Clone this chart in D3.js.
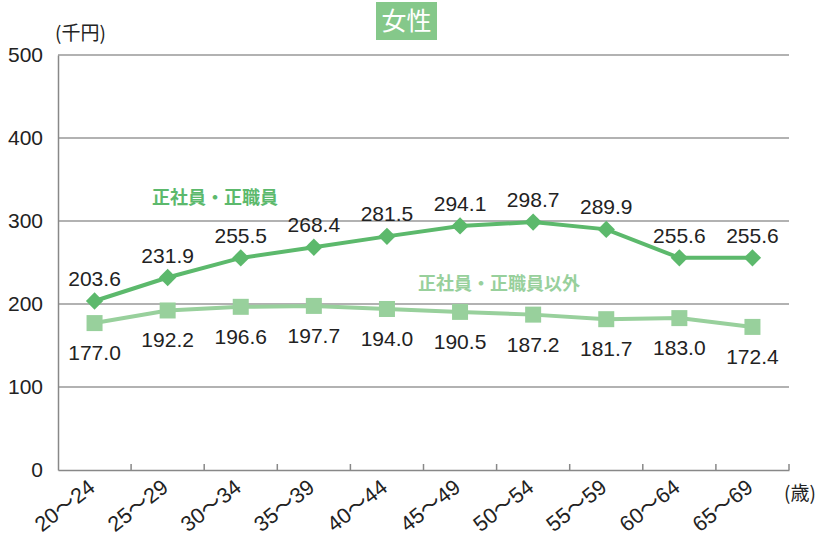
<!DOCTYPE html>
<html><head><meta charset="utf-8">
<script src="https://cdn.jsdelivr.net/npm/d3@7"></script>
<style>
body{margin:0;background:#fff;}
svg{display:block;font-family:"Liberation Sans",Arial,"Noto Sans CJK JP",sans-serif;}
.jp{font-family:"Noto Sans CJK JP",sans-serif;}
</style></head>
<body>
<svg id="c" width="826" height="536"></svg>
<script>
const categories = ["20〜24","25〜29","30〜34","35〜39","40〜44","45〜49","50〜54","55〜59","60〜64","65〜69"];
const regular = [203.6,231.9,255.5,268.4,281.5,294.1,298.7,289.9,255.6,255.6];
const nonRegular = [177.0,192.2,196.6,197.7,194.0,190.5,187.2,181.7,183.0,172.4];
const yTicks = [0,100,200,300,400,500];
const seriesNames = ["正社員・正職員","正社員・正職員以外"];

const svg = d3.select("#c");
const L=58, R=789, T=55, B=470;
const x = d3.scaleBand().domain(categories).range([L,R]);
const y = d3.scaleLinear().domain([0,500]).range([B,T]);
const c1="#5cb96c", c2="#98d09c";

// gridlines
svg.append("g").selectAll("line").data(yTicks.filter(d=>d>0)).join("line")
  .attr("x1",L).attr("x2",R).attr("y1",d=>y(d)).attr("y2",d=>y(d))
  .attr("stroke","#999").attr("stroke-width",1.5);

// y axis
const yAxis = svg.append("g").attr("transform",`translate(${L},0)`)
  .call(d3.axisLeft(y).tickValues(yTicks).tickSize(0).tickPadding(15));
yAxis.select(".domain").attr("stroke","#888").attr("stroke-width",1.5);
yAxis.selectAll("text").attr("font-size",21).attr("fill","#222")
  .attr("font-family","Liberation Sans, Arial, sans-serif");

// x axis
const xAxis = svg.append("g").attr("transform",`translate(0,${B})`)
  .call(d3.axisBottom(x).tickSize(0).tickFormat(""));
xAxis.select(".domain").attr("stroke","#888").attr("stroke-width",1.5);
const bounds = categories.map(c=>x(c)+x.bandwidth());
svg.append("g").selectAll("line").data(bounds).join("line")
  .attr("x1",d=>d).attr("x2",d=>d).attr("y1",B).attr("y2",B-6)
  .attr("stroke","#888").attr("stroke-width",1.5);

// x labels
svg.append("g").selectAll("text").data(categories).join("text")
  .attr("transform",d=>`translate(${x(d)+x.bandwidth()/2+2},${B+20}) rotate(-38)`)
  .attr("text-anchor","end").attr("font-size",21.5).attr("fill","#222")
  .text(d=>d);

// units
svg.append("text").attr("class","jp").attr("x",55).attr("y",40).attr("font-size",19).attr("fill","#222").text("(千円)");
svg.append("text").attr("class","jp").attr("x",784).attr("y",500).attr("font-size",19).attr("fill","#222").text("(歳)");

// title
svg.append("rect").attr("x",376).attr("y",2).attr("width",61).attr("height",38).attr("fill","#85c88a");
svg.append("text").attr("class","jp").attr("x",406.5).attr("y",30).attr("text-anchor","middle")
  .attr("font-size",25).attr("fill","#fff").text("女性");

const cx = d=>x(d)+x.bandwidth()/2;
const line = d3.line().x((d,i)=>cx(categories[i])).y(d=>y(d));

// series 2
svg.append("path").datum(nonRegular).attr("d",line).attr("fill","none").attr("stroke",c2).attr("stroke-width",4);
svg.append("g").selectAll("rect").data(nonRegular).join("rect")
  .attr("x",(d,i)=>cx(categories[i])-8).attr("y",d=>y(d)-8).attr("width",16).attr("height",16).attr("fill",c2);
svg.append("g").selectAll("text").data(nonRegular).join("text")
  .attr("x",(d,i)=>cx(categories[i])).attr("y",d=>y(d)+37).attr("text-anchor","middle")
  .attr("font-size",21).attr("fill","#222").text(d=>d.toFixed(1));

// series 1
svg.append("path").datum(regular).attr("d",line).attr("fill","none").attr("stroke",c1).attr("stroke-width",4);
svg.append("g").selectAll("path").data(regular).join("path")
  .attr("d",d3.symbol(d3.symbolSquare,150))
  .attr("transform",(d,i)=>`translate(${cx(categories[i])},${y(d)}) rotate(45)`)
  .attr("fill",c1);
svg.append("g").selectAll("text").data(regular).join("text")
  .attr("x",(d,i)=>cx(categories[i])).attr("y",d=>y(d)-15).attr("text-anchor","middle")
  .attr("font-size",21).attr("fill","#222").text(d=>d.toFixed(1));

// legends
svg.append("text").attr("class","jp").attr("x",152).attr("y",204).attr("font-size",18).attr("font-weight","bold").attr("fill",c1).text(seriesNames[0]);
svg.append("text").attr("class","jp").attr("x",418).attr("y",290).attr("font-size",18).attr("font-weight","bold").attr("fill",c2).text(seriesNames[1]);
</script>
</body></html>
